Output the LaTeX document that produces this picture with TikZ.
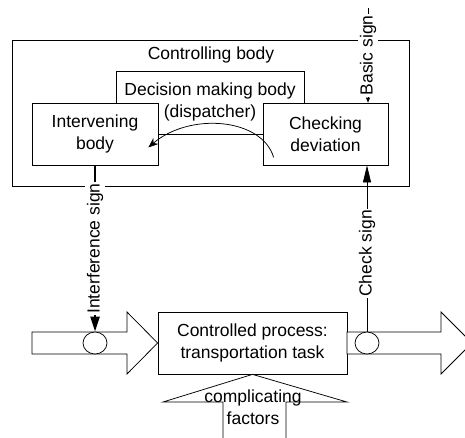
\documentclass[tikz,border=0pt]{standalone}
\usepackage{fontspec}
\setmainfont{Liberation Sans}
\usetikzlibrary{arrows.meta, shapes.geometric, calc}

\tikzset{
  box/.style={draw, fill=white, line width=0.75pt, inner sep=0pt, align=center},
  signtext/.style={fill=white, rotate=90, inner sep=1.5pt},
  joint/.style={draw, fill=white, ellipse, line width=0.75pt, minimum width=24pt, minimum height=22pt, inner sep=0pt},
  flow/.style={draw, fill=white, line width=0.75pt, line join=miter},
}

\begin{document}
\begin{tikzpicture}[x=1pt, y=-1pt, font=\fontsize{17.5pt}{21.5pt}\selectfont, line width=0.75pt]

\useasboundingbox (0,0) rectangle (465,437);
\clip (0,0) rectangle (465,437);

% Controlling body
\node[box, minimum width=397pt, minimum height=146pt] (ctrl) at (210.5,113) {};
\node (ctrlT) at (211,55) {Controlling body};

% Decision making body, partly behind the two inner boxes
\node[box, minimum width=188pt, minimum height=63pt] (dec) at (210,102.5) {};
\node[align=center] (decT) at (210,102) {Decision making body\\(dispatcher)};

% Intervening and checking
\node[box, minimum width=126pt, minimum height=62pt] (int) at (95,134) {Intervening\\body};
\node[box, minimum width=125pt, minimum height=62pt] (chk) at (325.5,134) {Checking\\deviation};

% Curved arrow: checking -> intervening
\coordinate (cvS) at ($(chk.south west)+(11,-8)$);
\coordinate (cvE) at ($(int.south east)+(-10,-18)$);
\draw[-{Stealth[length=10pt,width=8pt]}] (cvS) .. controls (262,118) and (190,112) .. (cvE);

% Controlled process
\node[box, minimum width=189pt, minimum height=62pt] (proc) at (252.5,343) {Controlled process:\\transportation task};

% Flow arrows
\draw[flow] (32,332) -- (127,332) -- (127,312) -- (proc.west) -- (127,374) -- (127,354) -- (32,354) -- cycle;
\draw[flow] (347,332) -- (441,332) -- (441,312) -- (472,343) -- (441,374) -- (441,354) -- (347,354) -- cycle;
\draw[flow] (223,445) -- (223,402) -- (163,402) -- (proc.south) -- (347,402) -- (286,402) -- (286,445) -- cycle;
\node[align=center] (cplx) at (253,407) {complicating\\factors};

% Joints on the flow
\node[joint] (inC) at (95,343) {};
\node[joint] (outC) at (367,343) {};

% Signs
\coordinate (bsTop) at (368,8);
\draw[-{Triangle[length=5pt,width=4pt]}] (bsTop) -- (bsTop |- chk.north) node[signtext, midway] {Basic sign};
\draw[line width=2.4pt, -{Triangle[length=15pt,width=9pt]}] (int.south) -- (inC.north) node[signtext, midway] {Interference sign};
\draw[-{Triangle[length=17pt,width=8pt]}] (outC.north) -- (outC.north |- chk.south) node[signtext, pos=0.47] {Check sign};

\end{tikzpicture}
\end{document}
